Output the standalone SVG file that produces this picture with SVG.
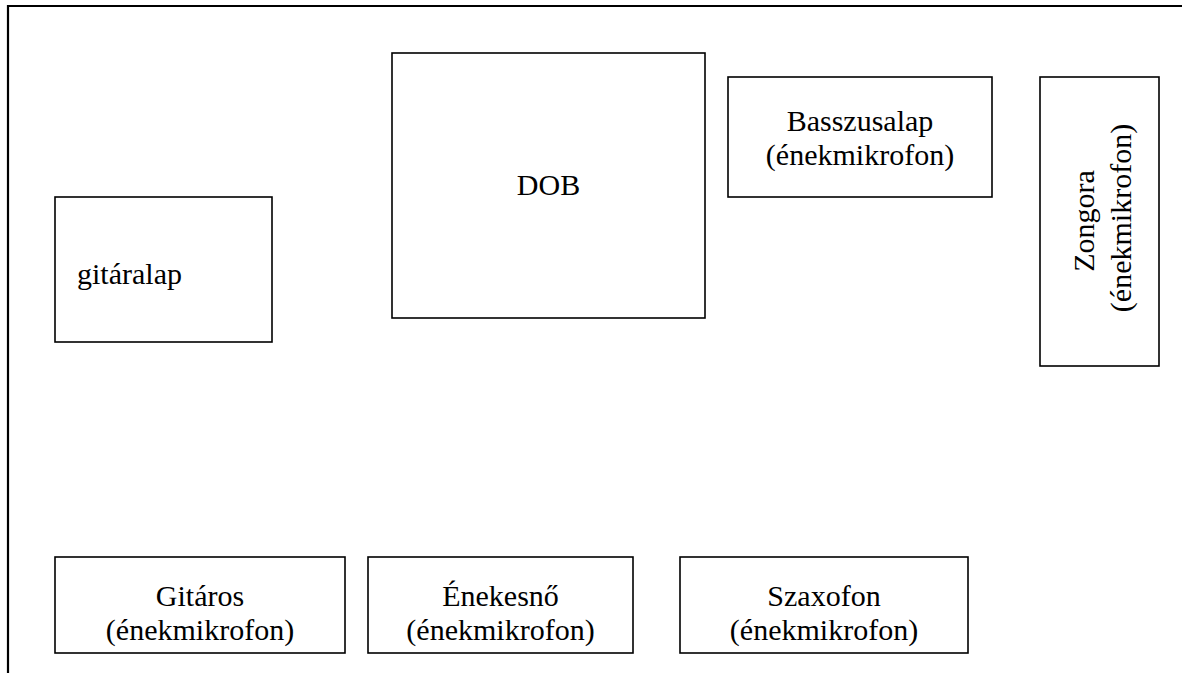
<svg xmlns="http://www.w3.org/2000/svg" width="1182" height="673" viewBox="0 0 1182 673">
<style>
.box{fill:#fff;stroke:#000;stroke-width:1.6}
.t{font-size:30px;fill:#000}
.c{text-anchor:middle}
.frame{stroke:#000;stroke-width:2.2;fill:none}
</style>
<rect width="1182" height="673" fill="#fff"/>
<g id="frame">
<polyline class="frame" points="8,673 8,6 1182,6"/>
</g>
<g id="connectors"></g>
<g font-family="'Liberation Serif', Tinos, 'Times New Roman', serif">
<g id="gitaralap">
<rect class="box" x="55" y="197" width="217" height="145"/>
<text class="t" x="77" y="284">gitáralap</text>
</g>
<g id="dob">
<rect class="box" x="392" y="53" width="313" height="265"/>
<text class="t c" x="548.5" y="195">DOB</text>
</g>
<g id="basszusalap">
<rect class="box" x="728" y="77" width="264" height="120"/>
<text class="t c" x="860" y="131">Basszusalap</text>
<text class="t c" x="860" y="165">(énekmikrofon)</text>
</g>
<g id="zongora">
<rect class="box" x="1040" y="77" width="119" height="289"/>
<text class="t c" transform="translate(1094,221) rotate(-90)">Zongora</text>
<text class="t c" transform="translate(1131,218) rotate(-90)">(énekmikrofon)</text>
</g>
<g id="gitaros">
<rect class="box" x="55" y="557" width="290" height="96"/>
<text class="t c" x="200" y="606">Gitáros</text>
<text class="t c" x="200" y="640">(énekmikrofon)</text>
</g>
<g id="enekesno">
<rect class="box" x="368" y="557" width="265" height="96"/>
<text class="t c" x="500.5" y="606">Énekesnő</text>
<text class="t c" x="500.5" y="640">(énekmikrofon)</text>
</g>
<g id="szaxofon">
<rect class="box" x="680" y="557" width="288" height="96"/>
<text class="t c" x="824" y="606">Szaxofon</text>
<text class="t c" x="824" y="640">(énekmikrofon)</text>
</g>
</g>
</svg>
